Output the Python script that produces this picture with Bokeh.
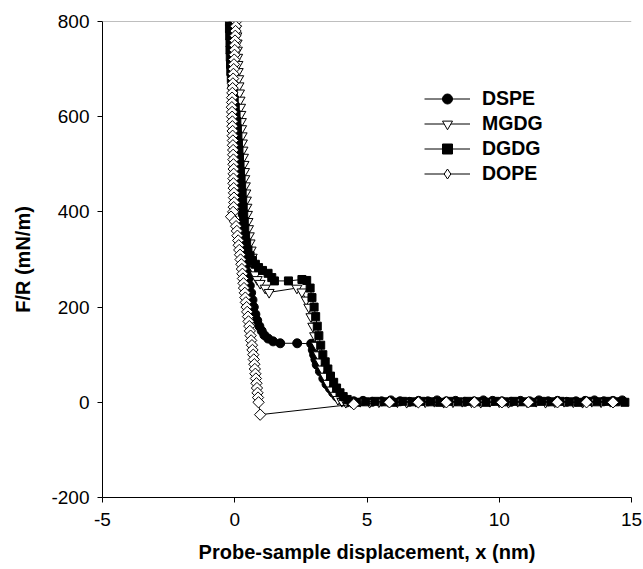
from bokeh.plotting import figure
from bokeh.models import Range1d, FixedTicker, Span, Legend, LegendItem, ColumnDataSource
from bokeh.embed import file_html
from bokeh.resources import INLINE

# ---------------- data (x in nm, F/R in mN/m) ----------------
dspe_x = [-0.05, -0.04, -0.03, -0.02, -0.01, 0.0, 0.01, 0.02, 0.03, 0.04, 0.05, 0.06, 0.07, 0.08,
          0.09, 0.10, 0.11, 0.13, 0.14, 0.16, 0.17, 0.19, 0.20, 0.22, 0.24, 0.26, 0.28, 0.30,
          0.32, 0.34, 0.36, 0.38, 0.40, 0.43, 0.46, 0.50, 0.53, 0.57, 0.62, 0.67, 0.72, 0.78,
          0.85, 0.93, 1.02, 1.12, 1.26, 1.45, 1.72, 2.36, 2.89, 2.95, 3.0, 3.05, 3.1, 3.22,
          3.35, 3.47, 3.6, 3.72, 3.85, 3.97, 4.1, 4.25,
          4.5, 4.85, 5.2, 5.55, 5.9, 6.25, 6.6, 6.95, 7.3, 7.65, 8.0, 8.35, 8.7, 9.05, 9.4,
          9.75, 10.1, 10.45, 10.8, 11.15, 11.5, 11.85, 12.2, 12.55, 12.9, 13.25, 13.6, 13.95,
          14.3, 14.65]
dspe_y = [800, 785, 770, 755, 740, 725, 710, 695, 680, 665, 650, 635, 620, 605,
          590, 575, 560, 545, 530, 515, 500, 485, 470, 455, 440, 425, 410, 395,
          380, 365, 350, 335, 320, 305, 290, 275, 260, 245, 230, 215, 200, 185,
          172, 160, 150, 141, 134, 128, 124, 124, 123, 110, 100, 90, 79, 65,
          50, 38, 29, 20, 12, 6, 2, 0,
          2, 3, 1, 2, 4, 2, 1, 3, 2, 4, 2, 3, 1, 2, 4,
          3, 2, 1, 3, 2, 4, 2, 3, 1, 2, 3, 4, 2,
          3, 4]

mgdg_x = [0.05, 0.06, 0.08, 0.09, 0.10, 0.11, 0.12, 0.13, 0.15, 0.16, 0.18, 0.20, 0.22, 0.23,
          0.25, 0.26, 0.28, 0.29, 0.31, 0.33, 0.35, 0.37, 0.38, 0.40, 0.42, 0.44, 0.46, 0.48,
          0.50, 0.52, 0.55, 0.58, 0.62, 0.66, 0.70, 0.73, 0.77, 0.85, 0.96, 1.15, 1.3, 2.35,
          2.54, 2.7, 2.8, 2.88, 2.95, 3.02, 3.08, 3.15, 3.22, 3.3, 3.4, 3.52, 3.67, 3.8, 3.9,
          4.05, 4.2,
          4.4, 4.75, 5.1, 5.45, 5.8, 6.15, 6.5, 6.85, 7.2, 7.55, 7.9, 8.25, 8.6, 8.95, 9.3,
          9.65, 10.0, 10.35, 10.7, 11.05, 11.4, 11.75, 12.1, 12.45, 12.8, 13.15, 13.5, 13.85,
          14.2, 14.55]
mgdg_y = [800, 785, 770, 755, 740, 725, 710, 695, 680, 665, 650, 635, 620, 605,
          590, 575, 560, 545, 530, 515, 500, 485, 470, 455, 440, 425, 410, 395,
          380, 365, 350, 335, 320, 305, 290, 278, 268, 258, 250, 240, 231, 240,
          232, 215, 200, 180, 160, 140, 120, 100, 85, 70, 55, 40, 26, 15, 6,
          2, 0,
          1, 2, 0, 1, 2, 1, 0, 2, 1, 2, 0, 1, 2, 1, 0,
          2, 1, 0, 2, 1, 2, 0, 1, 2, 1, 0, 2,
          1, 2]

dgdg_x = [-0.2, -0.2, -0.19, -0.18, -0.18, -0.17, -0.16, -0.15, -0.13, -0.10, -0.06, -0.02,
          0.02, 0.05, 0.08, 0.10, 0.12, 0.14, 0.16, 0.18, 0.20, 0.22, 0.24, 0.26, 0.28, 0.30,
          0.32, 0.34, 0.36, 0.38, 0.41, 0.45, 0.50, 0.58, 0.67, 0.78, 0.90, 1.05, 1.26, 1.4,
          1.5, 2.03, 2.54, 2.72, 2.85, 2.92, 3.0, 3.06, 3.12, 3.18, 3.25, 3.33, 3.42, 3.52,
          3.62, 3.74, 3.85, 3.98, 4.1, 4.25, 4.4, 4.6,
          4.95, 5.3, 5.65, 6.0, 6.35, 6.7, 7.05, 7.4, 7.75, 8.1, 8.45, 8.8, 9.15, 9.5,
          9.85, 10.2, 10.55, 10.9, 11.25, 11.6, 11.95, 12.3, 12.65, 13.0, 13.35, 13.7,
          14.05, 14.4, 14.75]
dgdg_y = [800, 785, 770, 755, 740, 725, 710, 695, 680, 665, 650, 635,
          620, 605, 590, 575, 560, 545, 530, 515, 500, 485, 470, 455, 440, 425,
          410, 395, 380, 365, 350, 335, 320, 308, 298, 290, 283, 277, 271, 262,
          255, 255, 258, 256, 240, 220, 200, 180, 160, 140, 120, 100, 85, 70,
          55, 42, 30, 20, 12, 6, 2, 0,
          1, 2, 1, 0, 2, 1, 2, 1, 0, 2, 1, 2, 1, 0,
          2, 1, 2, 1, 0, 2, 1, 2, 1, 0, 2, 1,
          2, 1, 0]

dope_x = [0.05, 0.04, 0.03, 0.02, 0.01, 0.0, 0.0, -0.01, -0.02, -0.03, -0.04, -0.05, -0.06,
          -0.07, -0.08, -0.09, -0.10, -0.10, -0.11, -0.10, -0.10, -0.09, -0.09, -0.08, -0.08,
          -0.07, -0.07, -0.06, -0.06, -0.05, -0.05, -0.04, -0.04, -0.05, -0.05, -0.04, -0.03,
          -0.03, -0.02, -0.04, -0.06, -0.14, 0.0, 0.05, 0.08, 0.10, 0.13, 0.15, 0.17, 0.20,
          0.22, 0.25, 0.27, 0.29, 0.31, 0.33, 0.35, 0.38, 0.40, 0.42, 0.45, 0.47, 0.50, 0.52,
          0.55, 0.57, 0.60, 0.62, 0.65, 0.67, 0.70, 0.72, 0.74, 0.76, 0.78, 0.80, 0.82, 0.84,
          0.86, 0.88, 0.90, 0.96,
          4.5, 5.85, 6.94, 8.0, 9.06, 10.1, 11.1, 12.2, 13.3, 14.3]
dope_y = [800, 790, 780, 770, 760, 750, 740, 730, 720, 710, 700, 690, 680,
          670, 660, 650, 640, 630, 620, 610, 600, 590, 580, 570, 560,
          550, 540, 530, 520, 510, 500, 490, 480, 470, 460, 450, 440,
          430, 420, 410, 400, 390, 380, 370, 360, 350, 340, 330, 320, 310,
          300, 290, 280, 270, 260, 250, 240, 230, 220, 210, 200, 190, 180, 170,
          160, 150, 140, 130, 120, 110, 100, 90, 80, 70, 60, 50, 40, 30,
          20, 10, 0, -26,
          -4, 0, 0, 0, 0, 0, 0, 0, 0, 0]

x_ticks = [-5, 0, 5, 10, 15]
y_ticks = [-200, 0, 200, 400, 600, 800]

FONT = "Liberation Sans"

p = figure(frame_width=529, frame_height=476, output_backend="svg", toolbar_location=None,
           x_range=Range1d(-5, 15), y_range=Range1d(-200, 800),
           min_border_left=102, min_border_top=21, min_border_right=12, min_border_bottom=72)
p.outline_line_color = None
p.xgrid.visible = False
p.ygrid.visible = False
p.background_fill_color = "white"
p.border_fill_color = "white"

for ax, ticks in ((p.xaxis[0], x_ticks), (p.yaxis[0], y_ticks)):
    ax.ticker = FixedTicker(ticks=ticks)
    ax.major_label_overrides = {t: str(t) for t in ticks}
    ax.minor_tick_line_color = None
    ax.major_tick_in = 0
    ax.major_tick_out = 5
    ax.axis_line_color = "black"
    ax.major_tick_line_color = "black"
    ax.major_label_text_font = FONT
    ax.major_label_text_font_size = "19px"
    ax.major_label_text_color = "black"
    ax.axis_label_text_font = FONT
    ax.axis_label_text_font_style = "bold"
    ax.axis_label_text_font_size = "20px"
    ax.axis_label_text_color = "black"

p.xaxis.axis_label = "Probe-sample displacement, x (nm)"
p.yaxis.axis_label = "F/R (mN/m)"
p.xaxis.major_label_standoff = 10
p.xaxis.axis_label_standoff = 12
p.yaxis.major_label_standoff = 8
p.yaxis.axis_label_standoff = 14

p.add_layout(Span(location=800, dimension="width", line_color="#7f7f7f", line_width=1))

# (name, x, y, marker, fill, size, angle, legend marker, legend size)
series = [
    ("DSPE", dspe_x, dspe_y, "circle", "black", 9, 0.0, "circle", 11),
    ("MGDG", mgdg_x, mgdg_y, "inverted_triangle", "white", 10, 0.0, "inverted_triangle", 11),
    ("DGDG", dgdg_x, dgdg_y, "square", "black", 8, 0.0, "square", 9),
    ("DOPE", dope_x, dope_y, "square", "white", 8, 0.785398, "diamond", 14),
]

items = []
for name, xs, ys, marker, fill, size, ang, lmarker, lsize in series:
    src = ColumnDataSource(dict(x=xs, y=ys))
    ln = p.line("x", "y", source=src, line_color="black", line_width=1)
    p.scatter("x", "y", source=src, marker=marker, size=size, fill_color=fill,
              line_color="black", line_width=1, angle=ang)
    # legend-only marker renderer (hidden in the plot itself)
    dummy = p.scatter("x", "y", source=src, marker=lmarker, size=lsize, fill_color=fill,
                      line_color="black", line_width=1, visible=False)
    items.append(LegendItem(label=name, renderers=[ln, dummy]))

legend = Legend(items=items, location=(322, 311), orientation="vertical")
legend.border_line_color = None
legend.background_fill_alpha = 0
legend.inactive_fill_alpha = 0
legend.padding = 0
legend.margin = 0
legend.spacing = 0
legend.glyph_width = 46
legend.glyph_height = 25
legend.label_height = 25
legend.label_standoff = 12
legend.label_text_font = FONT
legend.label_text_font_style = "bold"
legend.label_text_font_size = "19.5px"
legend.label_text_color = "black"
p.add_layout(legend, "center")

open("out.html", "w").write(file_html(p, INLINE))
